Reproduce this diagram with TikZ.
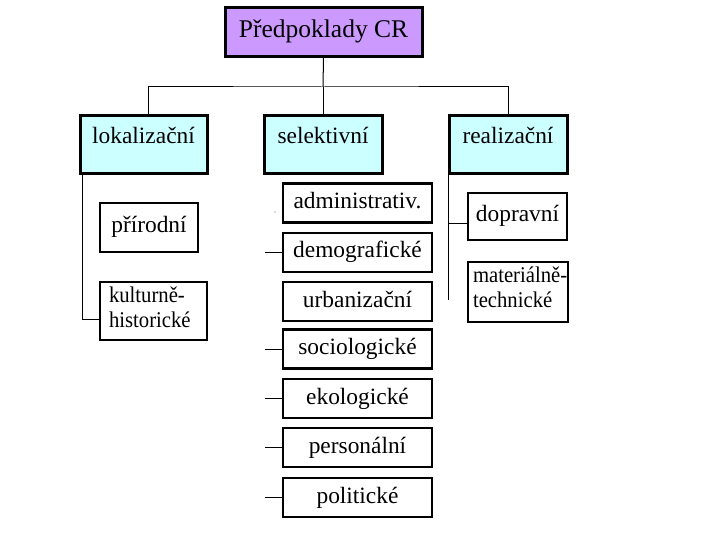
\documentclass[tikz,border=0pt]{standalone}
\usepackage{fontspec}
\setmainfont{Liberation Serif}
\newfontfamily\narrowserif[FakeStretch=0.92]{Liberation Serif}
\definecolor{purpleF}{HTML}{CC99FF}
\definecolor{cyanF}{HTML}{CCFFFF}
\begin{document}
\begin{tikzpicture}[x=1pt,y=-1pt,
  every node/.style={font=\fontsize{23.4}{26}\selectfont, inner sep=0pt, outer sep=0pt},
  boxbase/.style={draw=black, rectangle, text height=16pt, text depth=5pt},
  topbox/.style={boxbase, fill=purpleF, line width=3pt, minimum width=197pt, minimum height=49pt,
    font=\fontsize{25.5}{28}\selectfont, text height=17pt, text depth=6pt},
  catbox/.style={boxbase, fill=cyanF, line width=3pt, minimum width=118pt, minimum height=58pt,
    text height=28pt, text depth=30pt},
  leafbox/.style={boxbase, fill=white, line width=2.4pt},
  midbox/.style={leafbox, minimum width=149pt, minimum height=39pt},
  twoleaf/.style={draw=black, rectangle, fill=white, line width=2.4pt, align=left,
    font=\narrowserif\fontsize{22.5}{25}\selectfont},
  conn/.style={line width=1pt, black}]
\useasboundingbox (0,0) rectangle (720,540);

% top
\node[topbox] (top) at (323.5,32.5) {Předpoklady CR};

% categories
\node[catbox, minimum width=127pt] (lok) at (143.5,145) {lokalizační};
\node[catbox] (sel) at (323,145) {selektivní};
\node[catbox] (real) at (508,145) {realizační};

% left leaves
\node[leafbox, minimum width=98pt, minimum height=49pt] (prir) at (149,227.5) {přírodní};
\node[twoleaf, minimum width=107pt, text width=89pt, text height=20pt, text depth=38pt] (kult) at (153.5,311) {\mbox{kulturně-}\\historické};

% middle leaves
\node[midbox] (admin) at (357.5,203) {administrativ.};
\node[midbox] (demo) at (357.5,252.5) {demografické};
\node[midbox] (urban) at (357.5,301.5) {urbanizační};
\node[midbox] (socio) at (357.5,349) {sociologické};
\node[midbox] (eko) at (357.5,398.5) {ekologické};
\node[midbox] (pers) at (357.5,447.5) {personální};
\node[midbox] (polit) at (357.5,497.5) {politické};

% right leaves
\node[leafbox, minimum width=99pt, minimum height=47pt] (dopr) at (517.5,216.5) {dopravní};
\node[twoleaf, minimum width=100pt, text width=90pt, text height=20pt, text depth=40pt] (mat) at (518,292) {\mbox{materiálně-}\\technické};

% connectors top
\coordinate (j) at (323,87);
\draw[conn] (top.south) -- (j);
\draw[conn] ([xshift=4.5pt]lok.north) |- (j) -| (real.north);
\draw[conn] (j) -- (sel.north);

% left branch
\draw[conn] ([xshift=2pt]lok.south west) |- ([yshift=-8pt]kult.west);

% right branch
\coordinate (rb) at (448,300);
\draw[conn] (rb |- real.south) -- (rb);
\draw[conn] ([yshift=-7.5pt]dopr.west) -- ([yshift=-7.5pt]dopr.west -| rb);

% middle ticks
\foreach \n in {demo,socio,eko,pers,polit}{
  \coordinate (t\n) at ([xshift=-18pt]\n.west);
  \draw[conn] (t\n) -- (\n.west);
}
\fill[black!60] (275,212) circle (0.7pt);
\end{tikzpicture}
\end{document}
